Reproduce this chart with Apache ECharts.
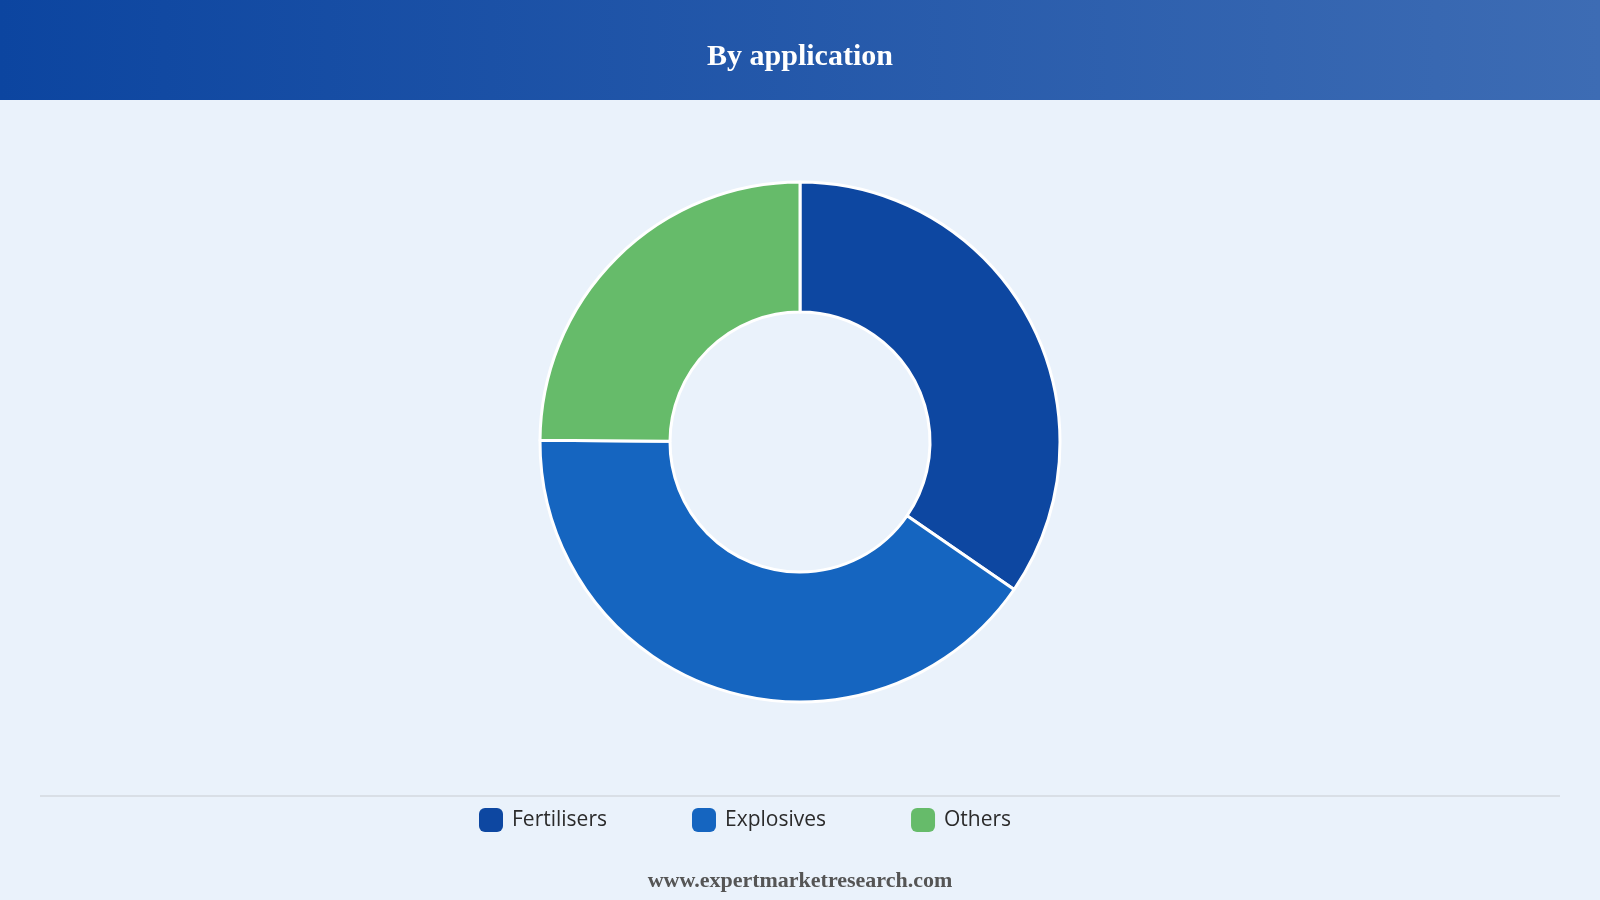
<!DOCTYPE html>
<html>
<head>
<meta charset="utf-8">
<script src="https://cdn.jsdelivr.net/npm/echarts@6/dist/echarts.min.js"></script>
<style>
html,body{margin:0;padding:0;background:#eaf2fb;}
#chart{width:1600px;height:900px;}
</style>
</head>
<body>
<div id="chart"></div>
<script>
const titleText = "By application";
const footerText = "www.expertmarketresearch.com";
const categories = ["Fertilisers", "Explosives", "Others"];
const values = [34.6, 40.5, 24.9];
const colors = ["#0d47a1", "#1565c0", "#66bb6a"];

const chart = echarts.init(document.getElementById('chart'));
chart.setOption({
  backgroundColor: '#eaf2fb',
  animation: false,
  color: colors,
  graphic: [
    {
      type: 'rect', left: 0, top: 0, z: 0,
      shape: { width: 1600, height: 100 },
      style: {
        fill: new echarts.graphic.LinearGradient(0, 0, 1, 0, [
          { offset: 0, color: '#0c45a0' },
          { offset: 1, color: '#3d6cb4' }
        ])
      }
    },
    {
      type: 'text', left: 'center', top: 42, z: 2,
      style: { text: titleText, fill: '#ffffff', font: 'bold 30px "Liberation Serif", "Times New Roman", serif' }
    },
    {
      type: 'line', z: 1,
      shape: { x1: 40, y1: 796, x2: 1560, y2: 796 },
      style: { stroke: '#d3d9df', lineWidth: 1.5 }
    },
    {
      type: 'text', left: 'center', top: 870, z: 2,
      style: { text: footerText, fill: '#555555', font: 'bold 22px "Liberation Serif", "Times New Roman", serif' }
    }
  ],
  legend: {
    data: categories,
    left: 474,
    top: 803,
    icon: 'roundRect',
    itemWidth: 24,
    itemHeight: 24,
    itemGap: 85,
    itemStyle: { borderWidth: 0 },
    textStyle: { fontSize: 21, color: '#2b2b2b', fontFamily: '"Open Sans", "Noto Sans", sans-serif', padding: [0, 0, 0, 4] }
  },
  series: [{
    type: 'pie',
    center: [800, 442],
    radius: [130, 260],
    startAngle: 90,
    clockwise: true,
    label: { show: false },
    labelLine: { show: false },
    itemStyle: { borderColor: '#ffffff', borderWidth: 3 },
    data: categories.map((c, i) => ({ name: c, value: values[i] }))
  }]
});
</script>
</body>
</html>
